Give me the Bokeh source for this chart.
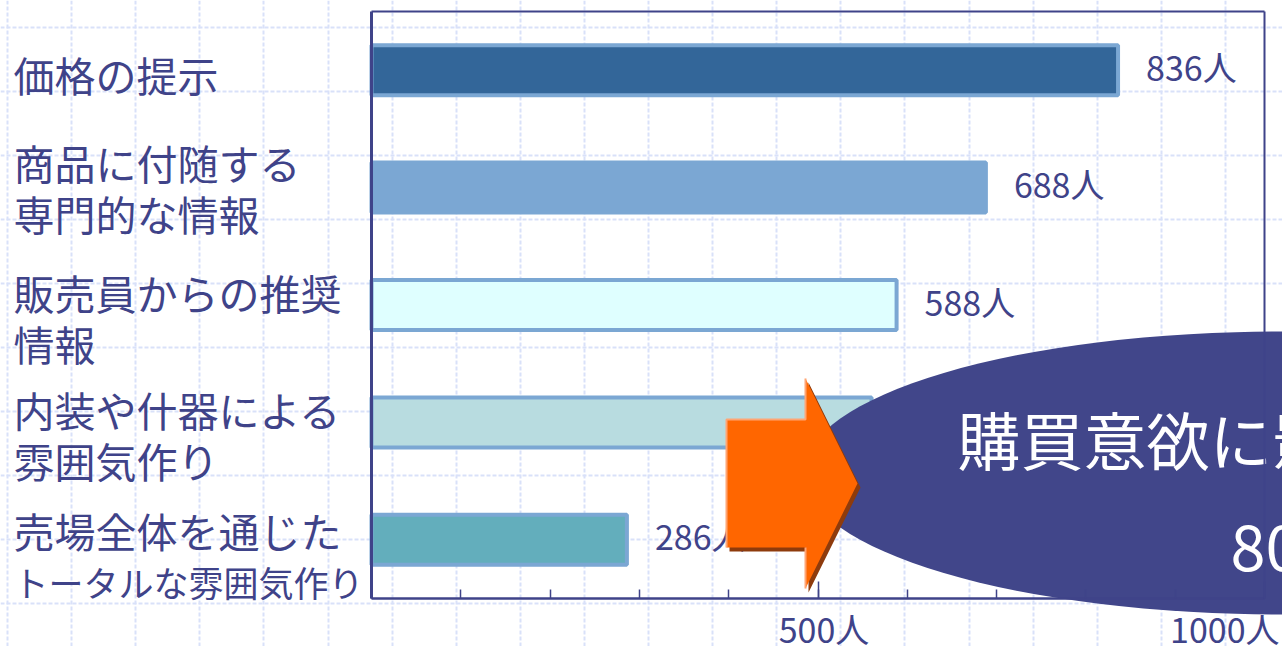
import numpy as np
from bokeh.plotting import figure
from bokeh.models import Range1d, LinearAxis, FixedTicker, SingleIntervalTicker, Grid, ColumnDataSource
from bokeh.core.properties import value
from bokeh.embed import file_html
from bokeh.resources import INLINE

# ---------------- data ----------------
categories = [
    "価格の提示",
    "商品に付随する\n専門的な情報",
    "販売員からの推奨\n情報",
    "内装や什器による\n雰囲気作り",
    "売場全体を通じた\nトータルな雰囲気作り",
]
counts = [836, 688, 588, 560, 286]
value_labels = [f"{v}人" for v in counts]
tick_values = [500, 1000]
tick_labels = ["500人", "1000人"]
callout_lines = ["購買意欲に影響", "80%"]

# ---------------- style ----------------
FONT = "Noto Sans CJK JP"
NAVY = "#3F4389"
ELLIPSE_COLOR = "#41468A"
GRID_COLOR = "#D9E1F9"
bar_fills = ["#336699", "#7BA7D3", "#DFFFFF", "#B8DCE0", "#63AEBC"]
BAR_EDGE = "#7BA7D3"
label_nudge = [4, 0, 12, 12, 16]   # px, vertical nudge of category labels
LINE_GAP = 51                        # px between label lines

W, H = 1282, 646
PX_PER_UNIT = 0.893      # px per person on x
PX_PER_CAT = 117.4       # px per category on y
X_ZERO = 371             # canvas px of x=0
Y_FIRST = 69.7           # canvas px of first category centre

def dx(px):
    return (px - X_ZERO) / PX_PER_UNIT

def dy(py):
    return (py - Y_FIRST) / PX_PER_CAT

x_range = Range1d(-X_ZERO / PX_PER_UNIT, (W - X_ZERO) / PX_PER_UNIT)
y_range = Range1d((H - Y_FIRST) / PX_PER_CAT, -Y_FIRST / PX_PER_CAT)

p = figure(width=W, height=H, x_range=x_range, y_range=y_range,
           output_backend="svg", toolbar_location=None,
           x_axis_type=None, y_axis_type=None, min_border=0,
           min_border_left=0, min_border_right=0, min_border_top=0, min_border_bottom=0,
           outline_line_color=None, background_fill_color="white",
           border_fill_color="white")

# background dashed grid (slide pattern)
vgrid = [dx(7 + 64.1 * k) for k in range(20)]
hgrid = [dy(27 + 64.0 * k) for k in range(10)]
for dim, ticks in ((0, vgrid), (1, hgrid)):
    g = Grid(dimension=dim, ticker=FixedTicker(ticks=ticks),
             grid_line_color=GRID_COLOR, grid_line_width=2, grid_line_dash="4 2")
    p.add_layout(g)

# axes (frame box)
xb = LinearAxis(fixed_location=4.5, bounds=(0, 1000),
                ticker=SingleIntervalTicker(interval=500, num_minor_ticks=5),
                major_tick_in=17, major_tick_out=0, minor_tick_in=9, minor_tick_out=0,
                axis_line_color=NAVY, axis_line_width=2.5,
                major_tick_line_color=NAVY, minor_tick_line_color=NAVY,
                major_tick_line_width=1.5, minor_tick_line_width=1.5,
                major_label_overrides={0: "", 500: "", 1000: ""},
                major_label_text_font_size="1px")
p.add_layout(xb, "below")

def plain_axis(loc, bounds, width):
    return LinearAxis(fixed_location=loc, bounds=bounds, ticker=FixedTicker(ticks=[]),
                      major_tick_in=0, major_tick_out=0, minor_tick_in=0, minor_tick_out=0,
                      axis_line_color=NAVY, axis_line_width=width,
                      major_label_text_font_size="1px")

p.add_layout(plain_axis(0, (-0.5, 4.5), 3), "left")
p.add_layout(plain_axis(-0.5, (0, 1000), 2), "above")
p.add_layout(plain_axis(1000, (-0.5, 4.5), 2), "right")

# bars
src = ColumnDataSource(dict(y=list(range(len(counts))), right=counts,
                            fill=bar_fills, label=value_labels))
p.hbar(y="y", left=0, right="right", height=0.426, fill_color="fill",
       line_color=BAR_EDGE, line_width=4, source=src)
p.text(x="right", y="y", text="label", x_offset=28, y_offset=-4,
       text_align="left", text_baseline="middle", text_font=value(FONT),
       text_font_size="34px", text_color=NAVY, source=src)

# category labels (left aligned at the left edge)
lt, ly, ls = [], [], []
for i, cat in enumerate(categories):
    lines = cat.split("\n")
    n = len(lines)
    for j, line in enumerate(lines):
        off = label_nudge[i] + (j - (n - 1) / 2) * LINE_GAP
        lt.append(line)
        ly.append(i + off / PX_PER_CAT)
        ls.append("35px" if len(line) >= 10 else "41px")
lsrc = ColumnDataSource(dict(x=[x_range.start] * len(lt), y=ly, text=lt, size=ls))
p.text(x="x", y="y", text="text", x_offset=13, text_align="left",
       text_baseline="middle", text_font=value(FONT), text_font_size="size",
       text_color=NAVY, source=lsrc)

# x tick labels
p.text(x=[tick_values[0]], y=[4.5], text=[tick_labels[0]], x_offset=6, y_offset=30,
       text_align="center", text_baseline="middle", text_font=value(FONT),
       text_font_size="34px", text_color=NAVY)
p.text(x=[tick_values[1]], y=[4.5], text=[tick_labels[1]], x_offset=15, y_offset=30,
       text_align="right", text_baseline="middle", text_font=value(FONT),
       text_font_size="34px", text_color=NAVY)

# callout ellipse
p.ellipse(x=[dx(1282)], y=[dy(472.5)], width=[958 / PX_PER_UNIT], height=[283 / PX_PER_CAT],
          fill_color=ELLIPSE_COLOR, line_color=None)
p.text(x=[dx(957), dx(1230)], y=[dy(437), dy(543)], text=callout_lines,
       text_align="left", text_baseline="middle", text_font=value(FONT),
       text_font_size="63px", text_color="white")

# block arrow
ax_px = [726, 805, 805, 857, 805, 805, 726]
ay_px = [419, 419, 378, 483, 588, 547, 547]
p.patch([dx(v + 3) for v in ax_px], [dy(v + 4) for v in ay_px],
        fill_color="#8E3B0C", line_color=None)
p.patch([dx(v) for v in ax_px], [dy(v) for v in ay_px],
        fill_color="#FF6600", line_color=None)
p.multi_line(xs=[[dx(726), dx(726), dx(805), dx(805)], [dx(805), dx(805)]],
             ys=[[dy(547), dy(419), dy(419), dy(378)], [dy(547), dy(588)]],
             line_color="#FFA574", line_width=2)

open("out.html", "w").write(file_html(p, INLINE))
